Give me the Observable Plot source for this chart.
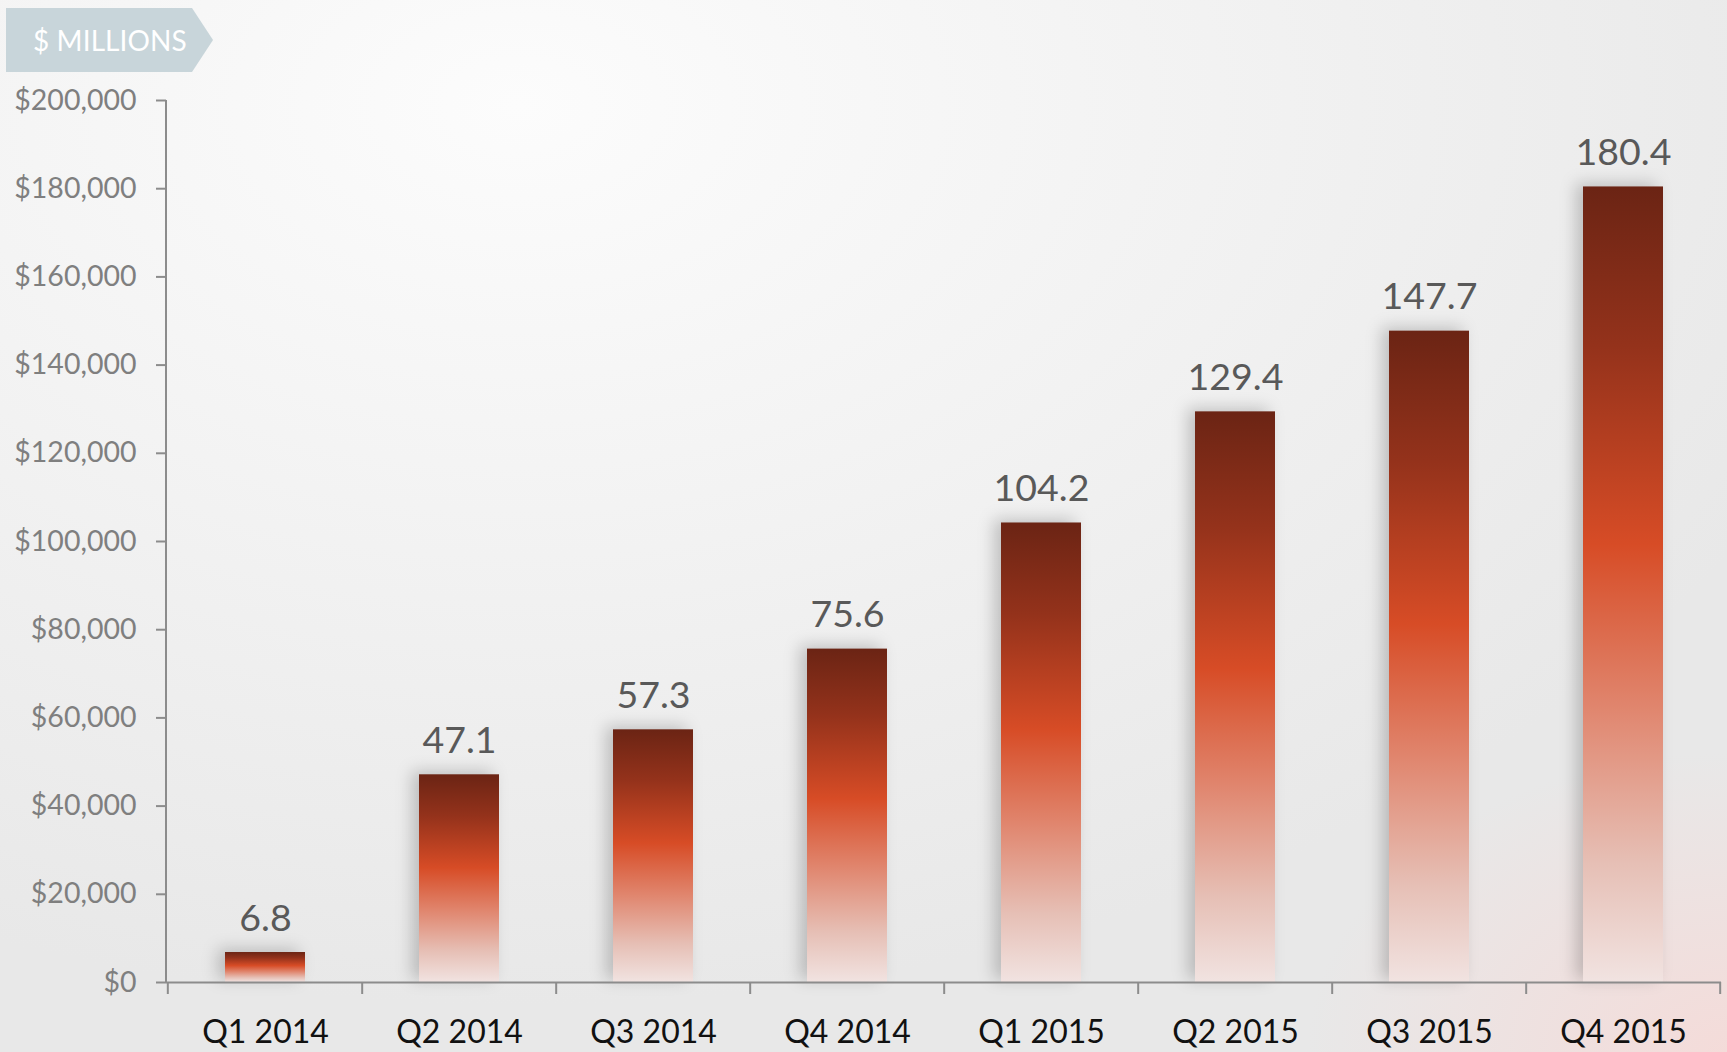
<!DOCTYPE html>
<html><head><meta charset="utf-8">
<script src="https://cdn.jsdelivr.net/npm/d3@7"></script>
<script src="https://cdn.jsdelivr.net/npm/@observablehq/plot@0.6"></script>
<style>
html,body{margin:0;padding:0;width:1727px;height:1052px;overflow:hidden;}
body{
  font-family: Lato, "Open Sans", sans-serif;
  background:
    radial-gradient(ellipse 420px 300px at 100% 100%, rgba(248,215,212,0.75) 0%, rgba(248,220,218,0) 100%),
    radial-gradient(ellipse 1400px 900px at 30% 10%, #fcfcfc 0%, #f1f1f1 55%, #e8e8e8 100%);
}
#wrap{position:relative;width:1727px;height:1052px;}
#chart{position:absolute;left:0;top:0;}
#badge{position:absolute;left:6px;top:8px;width:207px;height:64px;background:#c8d5da;
  clip-path:polygon(0 0,186px 0,207px 32px,186px 64px,0 64px);
  color:#fff;font-size:28px;line-height:64px;padding-left:27px;box-sizing:border-box;letter-spacing:0.1px;}
</style></head>
<body><div id="wrap"><div id="chart"></div><div id="badge">$ MILLIONS</div></div>
<script>
const quarters = ["Q1 2014","Q2 2014","Q3 2014","Q4 2014","Q1 2015","Q2 2015","Q3 2015","Q4 2015"];
const valuesBillions = [6.8, 47.1, 57.3, 75.6, 104.2, 129.4, 147.7, 180.4];
const yTicks = [0, 20000, 40000, 60000, 80000, 100000, 120000, 140000, 160000, 180000, 200000];

const data = quarters.map((q, i) => ({q, v: valuesBillions[i] * 1000, label: valuesBillions[i].toFixed(1)}));
const axisColor = "#8c8c8c";

const defsMark = () => {
  const svgNS = "http://www.w3.org/2000/svg";
  const defs = document.createElementNS(svgNS, "defs");
  defs.innerHTML = `
    <linearGradient id="barGrad" x1="0" y1="0" x2="0" y2="1">
      <stop offset="0" stop-color="#6b2414"/>
      <stop offset="0.2" stop-color="#94321b"/>
      <stop offset="0.45" stop-color="#d74c26"/>
      <stop offset="0.65" stop-color="#e0846c"/>
      <stop offset="0.85" stop-color="#e6bfb5"/>
      <stop offset="1" stop-color="#f1e3e1"/>
    </linearGradient>`;
  return defs;
};

const frameMark = (index, scales, values, dimensions) => {
  const svgNS = "http://www.w3.org/2000/svg";
  const g = document.createElementNS(svgNS, "g");
  const {width, marginLeft, marginRight} = dimensions;
  const y0 = scales.y(0), yTop = scales.y(yTicks[yTicks.length - 1]);
  const line = (x1, y1, x2, y2) => {
    const l = document.createElementNS(svgNS, "line");
    l.setAttribute("x1", x1); l.setAttribute("y1", y1);
    l.setAttribute("x2", x2); l.setAttribute("y2", y2);
    l.setAttribute("stroke", axisColor); l.setAttribute("stroke-width", 2);
    g.appendChild(l);
  };
  line(marginLeft, y0, marginLeft, yTop);
  const step = (width - marginLeft - marginRight) / quarters.length;
  const bw = scales.x.bandwidth ? scales.x.bandwidth() : 0;
  const centers = quarters.map(q => scales.x(q) + bw / 2);
  const bounds = [centers[0] - step / 2, ...centers.map(c => c + step / 2)];
  bounds.forEach(b => line(b, y0, b, y0 + 12));
  return g;
};

const plot = Plot.plot({
  width: 1727,
  height: 1052,
  marginTop: 100,
  marginBottom: 70,
  marginLeft: 166,
  marginRight: 6,
  style: {background: "transparent", fontFamily: "Lato, 'Open Sans', sans-serif"},
  x: {domain: quarters, paddingInner: 0.59, paddingOuter: 0.295, label: null},
  y: {domain: [0, 200000], label: null},
  marks: [
    defsMark,
    Plot.barY(data, {x: "q", y: "v", fill: "url(#barGrad)", imageFilter: "drop-shadow(-7px -3px 8px rgba(0,0,0,0.2))"}),
    Plot.ruleY([0], {stroke: axisColor, strokeWidth: 2}),
    frameMark,
    Plot.axisY({ticks: yTicks, tickFormat: d => "$" + d3.format(",")(d), tickSize: 10, tickPadding: 20,
      fontSize: 28.5, color: axisColor, fill: "#7f7f7f", strokeWidth: 2}),
    Plot.axisX({tickSize: 0, tickPadding: 38, fontSize: 32, fill: "#111111"}),
    Plot.text(data, {x: "q", y: "v", text: "label", lineAnchor: "bottom", dy: -22, fontSize: 37.5, fill: "#595959"})
  ]
});
document.getElementById("chart").appendChild(plot);
</script>
</body></html>
